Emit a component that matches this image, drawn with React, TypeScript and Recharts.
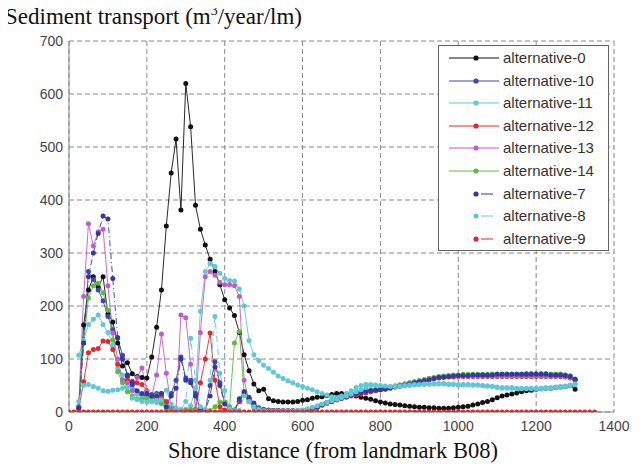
import React from 'react';
import { LineChart, Line, XAxis, YAxis, CartesianGrid } from 'recharts';

// Shore distance sampling grid (m from landmark B08)
const shoreDistance: number[] = Array.from({ length: 109 }, (_, i) => i * 12.5);

const xTicks = [0, 200, 400, 600, 800, 1000, 1200, 1400];
const yTicks = [0, 100, 200, 300, 400, 500, 600, 700];

// Values start at x = 25 (index 2) unless noted
const alt0 = [
  8, 164, 230, 255, 236, 255, 185, 170, 130, 87,
  93, 72, 67, 65, 64, 104, 160, 230, 351, 451,
  515, 381, 620, 538, 390, 345, 315, 288, 265, 240,
  212, 196, 182, 150, 108, 78, 53, 40, 43, 25,
  21, 20, 19, 19, 19, 20, 22, 23, 26, 28,
  29, 31, 33, 35, 35, 34, 32, 30, 28, 26,
  24, 21, 19, 17, 15, 14, 13, 12, 11, 10,
  9, 9, 8, 8, 7, 7, 7, 8, 9, 10,
  11, 13, 15, 18, 20, 23, 27, 30, 32, 34,
  36, 38, 40, 41, 43, 44, 45, 45, 46, 47,
  48, 50, 43,
];

const alt10 = [
  10, 130, 265, 250, 230, 210, 180, 155, 140, 107,
  67, 51, 35, 32, 30, 33, 35, 35, 8, 35,
  60, 104, 64, 60, 35, 5, 3, 50, 95, 55,
  17, 5, 4, 20, 38, 28, 17, 8, 5, 4,
  3, 3, 3, 3, 3, 3, 3, 4, 6, 10,
  14, 18, 21, 24, 27, 30, 33, 36, 38, 40,
  41, 41, 42, 44, 46, 48, 50, 52, 54, 56,
  58, 60, 62, 64, 66, 67, 68, 69, 69, 70,
  70, 70, 70, 70, 70, 71, 71, 71, 71, 71,
  71, 71, 72, 72, 72, 72, 72, 71, 71, 71,
  70, 68, 62,
];

const alt11 = [
  107, 135, 165, 175, 183, 165, 150, 126, 83, 70,
  55, 42, 35, 28, 24, 20, 18, 15, 12, 10,
  8, 5, 5, 12, 45, 190, 265, 280, 275, 262,
  252, 248, 247, 232, 200, 135, 108, 97, 88, 82,
  75, 68, 63, 59, 55, 51, 48, 45, 42, 38,
  35, 32, 29, 27, 30, 35, 40, 46, 50, 52,
  52, 50, 48, 47, 47, 47, 48, 49, 50, 51,
  52, 52, 53, 53, 53, 53, 52, 52, 51, 51,
  51, 51, 51, 50, 49, 48, 46, 45, 45, 45,
  44, 44, 44, 44, 44, 44, 45, 45, 46, 47,
  48, 50, 52,
];

const alt12 = [
  5, 57, 112, 118, 120, 134, 133, 118, 90, 60,
  60, 58, 55, 52, 40, 30, 25, 30, 20, 5,
  3, 2, 3, 4, 5, 55, 100, 149, 60, 10,
  4, 3, 3, 20, 35, 25, 14, 6, 4, 3,
  3, 3, 2, 2, 2, 2, 3, 4, 6, 9,
  13, 17, 20, 23, 26, 28, 30, 32, 34, 36,
  38, 40, 42, 44, 46, 48, 50, 52, 54, 56,
  58, 60, 62, 63, 64, 65, 66, 66, 67, 67,
  67, 67, 67, 67, 67, 67, 67, 67, 67, 67,
  67, 67, 67, 67, 67, 67, 67, 67, 67, 67,
  66, 64, 60,
];

const alt13 = [
  10, 218, 355, 313, 340, 345, 238, 149, 100, 60,
  55, 40, 65, 83, 40, 30, 70, 147, 73, 10,
  5, 183, 178, 90, 5, 150, 255, 265, 258, 245,
  240, 240, 238, 218, 60, 20, 8, 5, 4, 3,
  3, 3, 2, 2, 2, 2, 3, 4, 6, 9,
  13, 17, 20, 23, 26, 29, 32, 35, 37, 39,
  40, 41, 43, 45, 47, 49, 51, 53, 55, 57,
  59, 61, 63, 64, 65, 66, 67, 68, 68, 68,
  68, 68, 68, 68, 68, 68, 68, 68, 68, 68,
  68, 68, 68, 68, 68, 68, 68, 68, 68, 68,
  67, 65, 61,
];

const alt14 = [
  8, 130, 215, 238, 243, 225, 192, 136, 76, 55,
  38, 30, 25, 24, 26, 28, 32, 17, 5, 3,
  3, 3, 3, 3, 3, 3, 3, 3, 10, 19,
  19, 10, 130, 152, 35, 20, 10, 5, 4, 3,
  3, 3, 2, 2, 2, 2, 3, 4, 6, 10,
  14, 18, 21, 24, 27, 30, 33, 36, 38, 40,
  41, 42, 43, 45, 47, 49, 51, 53, 55, 57,
  59, 61, 63, 65, 67, 68, 69, 70, 70, 71,
  71, 71, 71, 71, 71, 71, 71, 71, 71, 71,
  71, 71, 71, 71, 71, 71, 71, 71, 71, 71,
  70, 68, 62,
];

const alt7 = [
  8, 130, 255, 300, 337, 370, 364, 252, 140, 100,
  70, 55, 40, 35, 35, 30, 30, 35, 10, 30,
  45, 100, 60, 55, 30, 4, 3, 30, 85, 50,
  15, 4, 3, 25, 38, 25, 15, 6, 4, 3,
  3, 3, 2, 2, 2, 2, 3, 4, 6, 9,
  13, 17, 20, 23, 26, 29, 32, 35, 37, 39,
  40, 41, 42, 43, 45, 47, 49, 51, 53, 55,
  57, 59, 61, 63, 65, 66, 67, 68, 69, 69,
  69, 70, 70, 70, 70, 70, 71, 71, 71, 71,
  71, 71, 71, 71, 71, 71, 71, 70, 70, 70,
  69, 67, 62,
];

const alt8 = [
  20, 50, 52, 48, 45, 40, 39, 41, 42, 45,
  47, 26, 23, 20, 19, 20, 22, 23, 41, 15,
  5, 3, 20, 139, 60, 10, 5, 60, 180, 73,
  40, 5, 3, 3, 30, 20, 10, 5, 3, 2,
  2, 2, 2, 2, 2, 3, 4, 6, 9, 12,
  15, 18, 21, 24, 27, 30, 34, 38, 42, 46,
  50, 51, 50, 49, 48, 48, 49, 50, 51, 52,
  52, 53, 53, 54, 54, 54, 53, 53, 52, 52,
  52, 51, 51, 50, 49, 48, 47, 46, 46, 46,
  45, 45, 45, 45, 45, 45, 46, 46, 47, 48,
  49, 51, 53,
];

// alternative-9 starts at x = 0 (index 0)
const alt9 = [
  0, 0, 0, 0, 0, 0, 0, 0, 0, 0,
  0, 0, 0, 0, 0, 0, 0, 0, 0, 0,
  0, 0, 0, 0, 0, 0, 0, 0, 0, 0,
  0, 0, 0, 0, 0, 0, 0, 0, 0, 0,
  0, 0, 0, 0, 0, 0, 0, 0, 0, 0,
  0, 0, 0, 0, 0, 0, 0, 0, 0, 0,
  0, 0, 0, 0, 0, 0, 0, 0, 0, 0,
  0, 0, 0, 0, 0, 0, 0, 0, 0, 0,
  0, 0, 0, 0, 0, 0, 0, 0, 0, 0,
  0, 0, 0, 0, 0, 0, 0, 0, 0, 0,
  0, 0, 0, 0, 0, 0, 0, 0, 0,
];

type Series = { key: string; name: string; color: string; dash?: string; start: number; values: number[] };

const SERIES: Series[] = [
  { key: 'a0', name: 'alternative-0', color: '#111111', start: 2, values: alt0 },
  { key: 'a10', name: 'alternative-10', color: '#3f45b4', start: 2, values: alt10 },
  { key: 'a11', name: 'alternative-11', color: '#5ec8d8', start: 2, values: alt11 },
  { key: 'a12', name: 'alternative-12', color: '#e3282c', start: 2, values: alt12 },
  { key: 'a13', name: 'alternative-13', color: '#c25cc6', start: 2, values: alt13 },
  { key: 'a14', name: 'alternative-14', color: '#58be3c', start: 2, values: alt14 },
  { key: 'a7', name: 'alternative-7', color: '#3438a4', dash: '6 3 1 3', start: 2, values: alt7 },
  { key: 'a8', name: 'alternative-8', color: '#5ec8d8', dash: '6 3 1 3', start: 2, values: alt8 },
  { key: 'a9', name: 'alternative-9', color: '#e3282c', dash: '6 3 1 3', start: 0, values: alt9 },
];

const rows = shoreDistance.map((x, i) => {
  const row: Record<string, number | null> = { x };
  for (const s of SERIES) {
    const j = i - s.start;
    row[s.key] = j >= 0 && j < s.values.length ? s.values[j] : null;
  }
  return row;
});

const SANS = '"Liberation Sans", Arial, sans-serif';
const SERIF = '"Liberation Serif", "Times New Roman", serif';

function LegendBox() {
  return (
    <div
      style={{
        position: 'absolute',
        left: 430,
        top: 37,
        width: 171,
        height: 206,
        border: '1px solid #666',
        background: '#fff',
        boxSizing: 'border-box',
      }}
    >
      {SERIES.map((s, k) => (
        <div
          key={s.key}
          style={{ position: 'absolute', left: 0, top: 1 + k * 22.6, height: 22, width: 170 }}
        >
          <svg width={62} height={22} style={{ position: 'absolute', left: 0, top: 0 }}>
            <line
              x1={10}
              y1={11}
              x2={60}
              y2={11}
              stroke={s.color}
              strokeWidth={1}
              strokeDasharray={s.dash ? '0 25 3 4 12 10' : undefined}
            />
            <circle cx={37} cy={11} r={2.6} fill={s.color} />
          </svg>
          <span
            style={{
              position: 'absolute',
              left: 64,
              top: 2,
              fontFamily: SANS,
              fontSize: 15,
              lineHeight: '18px',
              color: '#333',
              whiteSpace: 'nowrap',
            }}
          >
            {s.name}
          </span>
        </div>
      ))}
    </div>
  );
}

export default function App() {
  return (
    <div style={{ position: 'relative', width: 635, height: 457, background: '#fff' }}>
      <div
        style={{
          position: 'absolute',
          left: -3,
          top: -3,
          fontFamily: SERIF,
          fontSize: 23,
          lineHeight: '24px',
          color: '#111',
          whiteSpace: 'nowrap',
        }}
      >
        Sediment transport (m
        <span style={{ fontSize: 14, position: 'relative', top: -9 }}>3</span>
        /year/lm)
      </div>
      <LineChart
        width={635}
        height={457}
        data={rows}
        margin={{ top: 33, right: 29, bottom: 23, left: 21 }}
      >
        <CartesianGrid stroke="#8a8a8a" strokeDasharray="5 3" strokeWidth={1} />
        <XAxis
          dataKey="x"
          type="number"
          domain={[0, 1400]}
          ticks={xTicks}
          tickLine={false}
          tickSize={0}
          tickMargin={9}
          axisLine={{ stroke: '#888', strokeWidth: 1 }}
          tick={{ fill: '#444', fontSize: 14, fontFamily: SANS }}
          height={30}
          allowDataOverflow
        />
        <YAxis
          type="number"
          domain={[0, 700]}
          ticks={yTicks}
          tickLine={false}
          tickSize={0}
          tickMargin={6}
          axisLine={{ stroke: '#888', strokeWidth: 1 }}
          tick={{ fill: '#444', fontSize: 14, fontFamily: SANS }}
          width={40}
          allowDataOverflow
        />
        {SERIES.map((s) => (
          <Line
            key={s.key}
            dataKey={s.key}
            name={s.name}
            type="linear"
            stroke={s.color}
            strokeWidth={0.9}
            strokeDasharray={s.dash}
            dot={{ r: 2.5, fill: s.color, stroke: s.color, strokeWidth: 0 }}
            activeDot={false}
            connectNulls={false}
            isAnimationActive={false}
          />
        ))}
      </LineChart>
      <LegendBox />
      <div
        style={{
          position: 'absolute',
          left: 160,
          top: 431,
          fontFamily: SERIF,
          fontSize: 22.5,
          lineHeight: '24px',
          color: '#111',
          whiteSpace: 'nowrap',
        }}
      >
        Shore distance (from landmark B08)
      </div>
    </div>
  );
}
